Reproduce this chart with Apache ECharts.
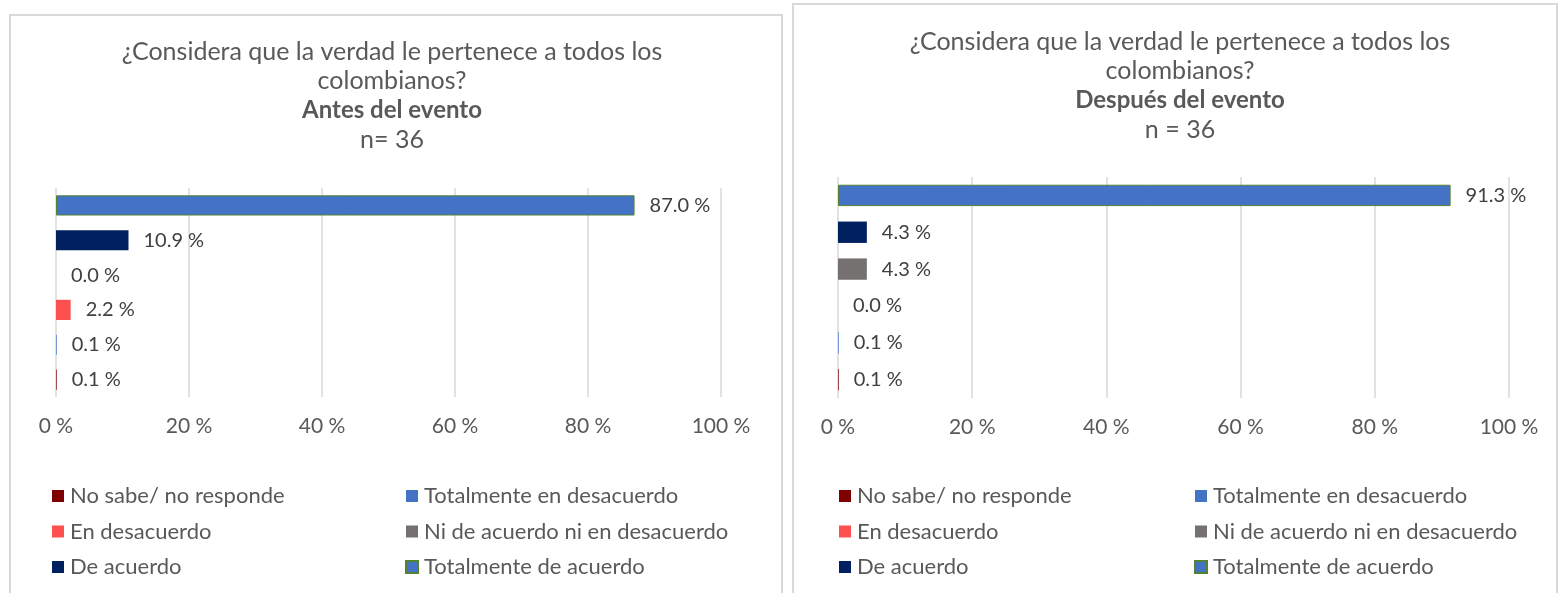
<!DOCTYPE html>
<html>
<head>
<meta charset="utf-8">
<script src="https://cdn.jsdelivr.net/npm/echarts@6/dist/echarts.min.js"></script>
<style>
    html, body { margin: 0; padding: 0; background: #fff; overflow: hidden; }
    body { width: 1558px; height: 593px; position: relative; }
    .box { position: absolute; border: 2px solid #d9d9d9; background: #fff; }
    #chartAntes { left: 9px; top: 14px; width: 770px; height: 600px; }
    #chartDespues { left: 792px; top: 3px; width: 762px; height: 610px; }
</style>
</head>
<body>
<div id="chartAntes" class="box"></div>
<div id="chartDespues" class="box"></div>
<script>
    // categorías (de abajo hacia arriba en el eje)
    const categories = [
        "No sabe/ no responde",
        "Totalmente en desacuerdo",
        "En desacuerdo",
        "Ni de acuerdo ni en desacuerdo",
        "De acuerdo",
        "Totalmente de acuerdo"
    ];
    const antesValues = [0.1, 0.1, 2.2, 0.0, 10.9, 87.0];
    const despuesValues = [0.1, 0.1, 0.0, 4.3, 4.3, 91.3];
    const xTicks = [0, 20, 40, 60, 80, 100];

    const colors = ["#7f0000", "#4472c4", "#ff5050", "#767171", "#002060", "#4472c4"];
    const fontFamily = "Lato, 'Open Sans', sans-serif";

    // construir opciones de un gráfico
    const buildOption = (cfg) => {
        const series = categories.map((name, i) => ({
            name: name,
            type: "bar",
            barGap: "-100%",
            barCategoryGap: "42%",
            data: cfg.values.map((v, j) => (j === i ? v : "-")),
            itemStyle: i === 5
                ? { color: colors[i], borderColor: "#548235", borderWidth: 1 }
                : { color: colors[i] },
            label: {
                show: true,
                position: "right",
                distance: 15,
                color: "#404040",
                fontSize: 20,
                fontFamily: fontFamily,
                formatter: (p) => p.value.toFixed(1) + " %"
            }
        }));
        const legendBase = {
            orient: "vertical",
            icon: "rect",
            padding: 0,
            itemWidth: 12,
            itemHeight: 12,
            itemGap: 13.5,
            top: cfg.legendTop,
            textStyle: {
                color: "#595959",
                fontSize: 22,
                fontFamily: fontFamily,
                lineHeight: 22,
                padding: [0, 0, 0, 1]
            }
        };
        return {
            animation: false,
            title: {
                text: "{a|¿Considera que la verdad le pertenece a todos los}\n{a|colombianos?}\n{b|" +
                    cfg.subtitle + "}\n{a|" + cfg.n + "}",
                left: cfg.titleX,
                top: cfg.titleTop,
                padding: 0,
                textAlign: "center",
                textStyle: {
                    fontWeight: "normal",
                    rich: {
                        a: { fontSize: 25, color: "#595959", fontFamily: fontFamily, fontWeight: "normal", lineHeight: 29.5, align: "center" },
                        b: { fontSize: 24, color: "#595959", fontFamily: fontFamily, fontWeight: "bold", lineHeight: 29.5, align: "center" }
                    }
                }
            },
            legend: [
                Object.assign({}, legendBase, { left: cfg.legendLeft[0], data: [categories[0], categories[2], categories[4]] }),
                Object.assign({}, legendBase, { left: cfg.legendLeft[1], data: [categories[1], categories[3], categories[5]] })
            ],
            grid: { left: cfg.grid[0], top: cfg.grid[1], width: cfg.grid[2], height: cfg.grid[3] },
            xAxis: {
                type: "value",
                min: xTicks[0],
                max: xTicks[xTicks.length - 1],
                interval: 20,
                axisLine: { show: false },
                axisTick: { show: false },
                axisLabel: {
                    color: "#595959",
                    fontSize: 21,
                    fontFamily: fontFamily,
                    margin: 19,
                    formatter: "{value} %"
                },
                splitLine: { lineStyle: { color: "#d9d9d9", width: 1.5 } }
            },
            yAxis: {
                type: "category",
                data: categories,
                axisLine: { show: false },
                axisTick: { show: false },
                axisLabel: { show: false }
            },
            series: series
        };
    };

    const chartAntes = echarts.init(document.getElementById("chartAntes"));
    chartAntes.setOption(buildOption({
        values: antesValues,
        subtitle: "Antes del evento",
        n: "n= 36",
        titleX: 381,
        titleTop: 21,
        legendTop: 469,
        legendLeft: [41, 394],
        grid: [45, 172, 665, 209]
    }));

    const chartDespues = echarts.init(document.getElementById("chartDespues"));
    chartDespues.setOption(buildOption({
        values: despuesValues,
        subtitle: "Después del evento",
        n: "n = 36",
        titleX: 386,
        titleTop: 22,
        legendTop: 480,
        legendLeft: [45, 400],
        grid: [44, 172, 671, 221]
    }));
</script>
</body>
</html>
